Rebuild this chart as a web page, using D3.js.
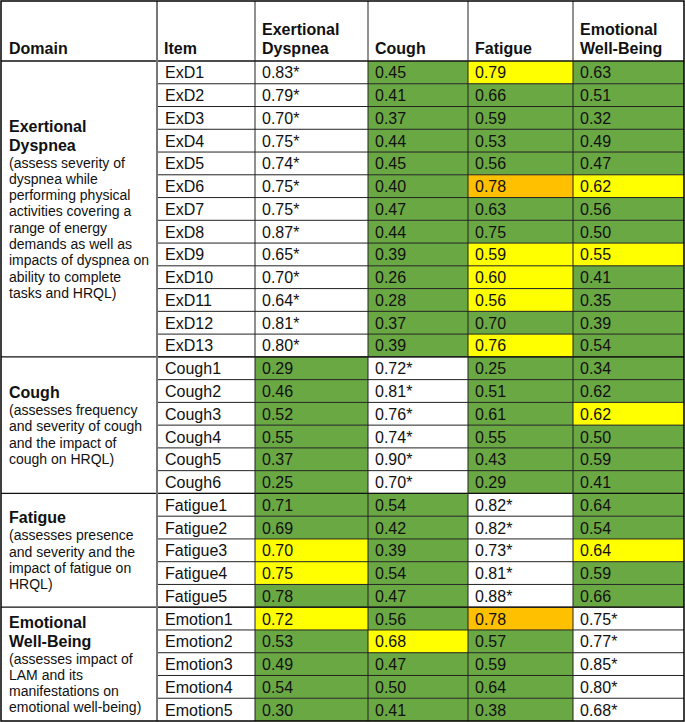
<!DOCTYPE html>
<html>
<head>
<meta charset="utf-8">
<title>Item-domain correlations</title>
<script src="https://cdnjs.cloudflare.com/ajax/libs/d3/7.8.5/d3.min.js"></script>
<style>
  body { margin: 0; background: #fff; }
  svg { display: block; font-family: Arial, "Liberation Sans", sans-serif; }
  .cell { font-size: 16px; fill: #111; }
  .head { font-size: 16px; font-weight: bold; fill: #111; }
  .dname { font-size: 16px; font-weight: bold; fill: #111; }
  .ddesc { font-size: 14px; fill: #111; }
</style>
</head>
<body>
<svg width="685" height="722"></svg>
<script>
// ---- data ----
const domainNames = [["Exertional", "Dyspnea"], ["Cough"], ["Fatigue"], ["Emotional", "Well-Being"]];
const domainDesc = [
  ["(assess severity of", "dyspnea while", "performing physical", "activities covering a",
   "range of energy", "demands as well as", "impacts of dyspnea on", "ability to complete", "tasks and HRQL)"],
  ["(assesses frequency", "and severity of cough", "and the impact of", "cough on HRQL)"],
  ["(assesses presence", "and severity and the", "impact of fatigue on", "HRQL)"],
  ["(assesses impact of", "LAM and its", "manifestations on", "emotional well-being)"]
];
const domainSize = [13, 6, 5, 5];

const items = [
  "ExD1","ExD2","ExD3","ExD4","ExD5","ExD6","ExD7","ExD8","ExD9","ExD10","ExD11","ExD12","ExD13",
  "Cough1","Cough2","Cough3","Cough4","Cough5","Cough6",
  "Fatigue1","Fatigue2","Fatigue3","Fatigue4","Fatigue5",
  "Emotion1","Emotion2","Emotion3","Emotion4","Emotion5"
];

const colLabels = [["Domain"], ["Item"], ["Exertional", "Dyspnea"], ["Cough"], ["Fatigue"], ["Emotional", "Well-Being"]];

const exd     = [0.83,0.79,0.70,0.75,0.74,0.75,0.75,0.87,0.65,0.70,0.64,0.81,0.80, 0.29,0.46,0.52,0.55,0.37,0.25, 0.71,0.69,0.70,0.75,0.78, 0.72,0.53,0.49,0.54,0.30];
const cough   = [0.45,0.41,0.37,0.44,0.45,0.40,0.47,0.44,0.39,0.26,0.28,0.37,0.39, 0.72,0.81,0.76,0.74,0.90,0.70, 0.54,0.42,0.39,0.54,0.47, 0.56,0.68,0.47,0.50,0.41];
const fatigue = [0.79,0.66,0.59,0.53,0.56,0.78,0.63,0.75,0.59,0.60,0.56,0.70,0.76, 0.25,0.51,0.61,0.55,0.43,0.29, 0.82,0.82,0.73,0.81,0.88, 0.78,0.57,0.59,0.64,0.38];
const emotion = [0.63,0.51,0.32,0.49,0.47,0.62,0.56,0.50,0.55,0.41,0.35,0.39,0.54, 0.34,0.62,0.62,0.50,0.59,0.41, 0.64,0.54,0.64,0.59,0.66, 0.75,0.77,0.85,0.80,0.68];

// highlighted cells per column (others off the own domain are green, own domain white)
const exdYellow     = ["Fatigue3", "Fatigue4", "Emotion1"];
const coughYellow   = ["Emotion2"];
const fatigueYellow = ["ExD1", "ExD9", "ExD10", "ExD11", "ExD13"];
const fatigueOrange = ["ExD6", "Emotion1"];
const emotionYellow = ["ExD6", "ExD9", "Cough3", "Fatigue3"];

const values = [exd, cough, fatigue, emotion];
const yellows = [exdYellow, coughYellow, fatigueYellow, emotionYellow];
const oranges = [[], [], fatigueOrange, []];

// ---- layout ----
const colEdges = [1, 157, 255, 368, 468, 573, 684];
const headTop = 1, headBottom = 61, tableBottom = 721;
const fill = { g: "#6aa843", y: "#ffff00", o: "#ffc000", w: "#ffffff" };

const svg = d3.select("svg");

const y = d3.scaleBand().domain(items).range([headBottom, tableBottom]);
const rowH = y.bandwidth();

// domain index of each item
const domIdx = [];
domainSize.forEach((n, d) => { for (let i = 0; i < n; i++) domIdx.push(d); });

// value cells
const cells = [];
items.forEach((it, r) => {
  values.forEach((arr, c) => {
    const own = domIdx[r] === c;
    let m = "g";
    if (own) m = "w";
    else if (oranges[c].includes(it)) m = "o";
    else if (yellows[c].includes(it)) m = "y";
    cells.push({ item: it, c, v: arr[r], own, m });
  });
});

const cellG = svg.append("g");
cellG.selectAll("rect").data(cells).join("rect")
  .attr("x", d => colEdges[d.c + 2])
  .attr("y", d => y(d.item))
  .attr("width", d => colEdges[d.c + 3] - colEdges[d.c + 2])
  .attr("height", rowH)
  .attr("fill", d => fill[d.m]);

cellG.selectAll("text").data(cells).join("text")
  .attr("class", "cell")
  .attr("x", d => colEdges[d.c + 2] + 7)
  .attr("y", d => y(d.item) + rowH / 2 + 6)
  .text(d => d3.format(".2f")(d.v) + (d.own ? "*" : ""));

// item labels
svg.append("g").selectAll("text").data(items).join("text")
  .attr("class", "cell")
  .attr("x", colEdges[1] + 8)
  .attr("y", d => y(d) + rowH / 2 + 6)
  .text(d => d);

// header labels
colLabels.forEach((lines, c) => {
  const t = svg.append("text").attr("class", "head");
  lines.forEach((l, i) => {
    t.append("tspan")
      .attr("x", colEdges[c] + (c === 0 ? 8 : 7))
      .attr("y", 54 - (lines.length - 1 - i) * 19)
      .text(l);
  });
});

// domain blocks
let start = 0;
const blocks = domainSize.map((n, d) => {
  const b = { d, top: y(items[start]), bottom: y(items[start + n - 1]) + rowH };
  start += n;
  return b;
});

blocks.forEach(b => {
  const names = domainNames[b.d], desc = domainDesc[b.d];
  const h = names.length * 19 + desc.length * 16.3;
  let ty = (b.top + b.bottom) / 2 - h / 2;
  names.forEach(l => {
    svg.append("text").attr("class", "dname").attr("x", colEdges[0] + 8).attr("y", ty + 15).text(l);
    ty += 19;
  });
  desc.forEach(l => {
    svg.append("text").attr("class", "ddesc").attr("x", colEdges[0] + 8).attr("y", ty + 13).text(l);
    ty += 16.3;
  });
});

// grid lines
const grid = svg.append("g").attr("fill", "none");
items.forEach((it, r) => {
  if (r === 0) return;
  grid.append("line")
    .attr("x1", colEdges[1]).attr("x2", colEdges[6])
    .attr("y1", y(it)).attr("y2", y(it))
    .attr("stroke", "#222").attr("stroke-width", 1);
});
blocks.slice(1).forEach(b => {
  grid.append("line")
    .attr("x1", colEdges[0]).attr("x2", colEdges[6])
    .attr("y1", b.top).attr("y2", b.top)
    .attr("stroke", "#111").attr("stroke-width", 1.3);
});
grid.append("line")
  .attr("x1", colEdges[0]).attr("x2", colEdges[6])
  .attr("y1", headBottom).attr("y2", headBottom)
  .attr("stroke", "#111").attr("stroke-width", 1.3);
colEdges.slice(1, 6).forEach((x, i) => {
  grid.append("line")
    .attr("x1", x).attr("x2", x)
    .attr("y1", headTop).attr("y2", tableBottom)
    .attr("stroke", i === 0 ? "#777" : "#222")
    .attr("stroke-width", i === 0 ? 2 : 1);
});
grid.append("rect")
  .attr("x", colEdges[0]).attr("y", headTop)
  .attr("width", colEdges[6] - colEdges[0]).attr("height", tableBottom - headTop)
  .attr("stroke", "#000").attr("stroke-width", 1.5);
</script>
</body>
</html>
